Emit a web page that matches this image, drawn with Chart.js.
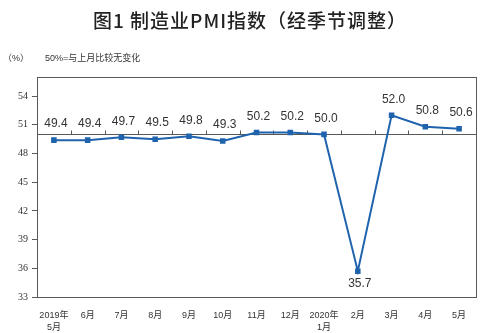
<!DOCTYPE html>
<html>
<head>
<meta charset="utf-8">
<script src="https://cdn.jsdelivr.net/npm/chart.js@4"></script>
<style>
  html, body { margin: 0; padding: 0; background: #fff; }
  #wrap { width: 500px; height: 333px; }
</style>
</head>
<body>
<div id="wrap"><canvas id="pmi-chart"></canvas></div>
<script>
const months = [
  ['2019年', '5月'], '6月', '7月', '8月', '9月', '10月', '11月', '12月',
  ['2020年', '1月'], '2月', '3月', '4月', '5月'
];
const pmi = [49.4, 49.4, 49.7, 49.5, 49.8, 49.3, 50.2, 50.2, 50.0, 35.7, 52.0, 50.8, 50.6];
const yTicks = [33, 36, 39, 42, 45, 48, 51, 54];
const baseline = 50;

const titleText = '图1 制造业PMI指数（经季节调整）';
const unitText = '（%）';
const noteText = '50%=与上月比较无变化';

const cjk = '"Liberation Sans", "Noto Sans CJK SC", sans-serif';
const lineColor = '#1f63ad';
const frameColor = '#595959';

// frame, the 50 line with its ticks, point labels and heading texts
const decor = {
  id: 'decor',
  beforeDatasetsDraw(chart) {
    const { ctx, chartArea: a, scales: { x, y } } = chart;
    ctx.save();
    ctx.strokeStyle = frameColor;
    ctx.lineWidth = 1;
    ctx.strokeRect(Math.round(a.left) + 0.5, Math.round(a.top) + 0.5,
      Math.round(a.right - a.left), Math.round(a.bottom - a.top));

    const y50 = Math.round(y.getPixelForValue(baseline)) + 0.5;
    ctx.beginPath();
    ctx.moveTo(a.left, y50);
    ctx.lineTo(a.right, y50);
    const step = x.getPixelForValue(1) - x.getPixelForValue(0);
    for (let i = 0; i < months.length - 1; i++) {
      const px = Math.round(x.getPixelForValue(i) + step / 2) + 0.5;
      ctx.moveTo(px, y50);
      ctx.lineTo(px, y50 - 4);
    }
    ctx.stroke();
    ctx.restore();
  },
  afterDatasetsDraw(chart) {
    const { ctx } = chart;
    const meta = chart.getDatasetMeta(0);
    const low = Math.min(...pmi);
    ctx.save();
    ctx.font = '12px "Liberation Sans", Arial, sans-serif';
    ctx.fillStyle = '#333';
    ctx.textAlign = 'center';
    ctx.textBaseline = 'middle';
    meta.data.forEach((pt, i) => {
      const v = pmi[i];
      const dy = v === low ? 13 : -16;
      ctx.fillText(v.toFixed(1), pt.x + 2, pt.y + dy);
    });

    ctx.textAlign = 'center';
    ctx.fillStyle = '#222';
    ctx.font = '500 19px "Noto Sans CJK SC", sans-serif';
    ctx.letterSpacing = '1px';
    ctx.fillText(titleText, 250, 21);
    ctx.letterSpacing = '0px';

    ctx.font = '9px ' + cjk;
    ctx.fillStyle = '#333';
    ctx.textAlign = 'left';
    ctx.fillText(unitText, 3, 59);
    ctx.fillText(noteText, 45, 59);
    ctx.restore();
  }
};

new Chart(document.getElementById('pmi-chart'), {
  type: 'line',
  data: {
    labels: months,
    datasets: [{
      data: pmi,
      borderColor: lineColor,
      backgroundColor: lineColor,
      borderWidth: 2,
      pointStyle: 'rect',
      pointRadius: 2.5,
      pointHoverRadius: 2.5,
      tension: 0
    }]
  },
  options: {
    responsive: true,
    maintainAspectRatio: false,
    animation: false,
    events: [],
    layout: { padding: { left: 0, right: 24, top: 77, bottom: 0 } },
    plugins: { legend: { display: false }, tooltip: { enabled: false } },
    scales: {
      x: {
        offset: true,
        border: { display: false },
        grid: { display: false },
        ticks: {
          maxRotation: 0,
          autoSkip: false,
          padding: 5,
          color: '#333',
          font: { size: 9, family: cjk, lineHeight: 1.3 }
        },
        afterFit(s) { s.height = 36; }
      },
      y: {
        min: 33,
        max: 56,
        border: { display: false },
        grid: {
          drawOnChartArea: false,
          drawTicks: true,
          tickLength: 5,
          color: frameColor
        },
        ticks: {
          padding: 4,
          color: '#333',
          font: { size: 10, family: '"Liberation Serif", serif' }
        },
        afterBuildTicks(s) { s.ticks = yTicks.map(v => ({ value: v })); },
        afterFit(s) { s.width = 37; }
      }
    }
  },
  plugins: [decor]
});
</script>
</body>
</html>
